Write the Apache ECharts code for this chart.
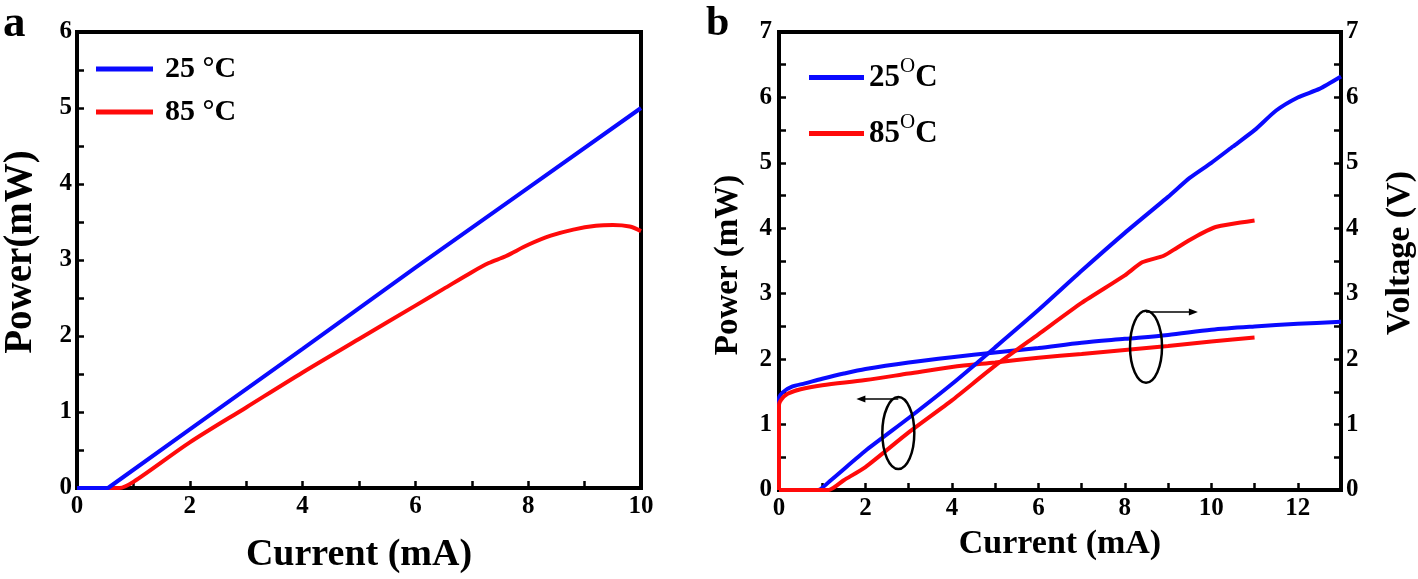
<!DOCTYPE html>
<html><head><meta charset="utf-8">
<script src="https://cdn.jsdelivr.net/npm/echarts@6/dist/echarts.min.js"></script>
<style>html,body{margin:0;padding:0;background:#fff}#c{width:1418px;height:579px}</style>
</head><body><div id="c"></div>
<script>
// ---------- Panel a data (Power vs Current) ----------
const aCurrent25 = [0, 0.55, 2, 4, 6, 8, 10];
const aPower25   = [0, 0,    0.77, 1.83, 2.9, 3.95, 5.0];
const aCurrent85 = [0, 0.75, 1, 2, 3, 4, 5, 6, 6.5, 7, 7.3, 7.6, 8, 8.4, 8.8, 9.2, 9.5, 9.8, 10];
const aPower85   = [0, 0, 0.08, 0.6, 1.06, 1.52, 1.96, 2.4, 2.62, 2.84, 2.96, 3.05, 3.2, 3.32, 3.4, 3.45, 3.46, 3.44, 3.38];

// ---------- Panel b data ----------
const bCurrentP25 = [0, 0.9, 1.2, 2, 3, 4, 5, 6, 7, 8, 9, 9.5, 10, 10.5, 11, 11.5, 12, 12.5, 13];
const bPower25    = [0, 0, 0.15, 0.6, 1.1, 1.62, 2.18, 2.75, 3.35, 3.93, 4.48, 4.77, 5.0, 5.25, 5.5, 5.8, 6.0, 6.13, 6.32];
const bCurrentP85 = [0, 1.15, 1.5, 2, 3, 4, 5, 6, 7, 8, 8.4, 8.9, 9.2, 9.5, 9.8, 10.1, 10.5, 11];
const bPower85    = [0, 0, 0.15, 0.35, 0.88, 1.37, 1.9, 2.38, 2.86, 3.28, 3.48, 3.58, 3.7, 3.82, 3.93, 4.02, 4.07, 4.12];
const bCurrentV25 = [0, 0, 0.1, 0.3, 0.6, 1, 1.5, 2, 3, 4, 5, 6, 7, 8, 9, 10, 11, 12, 13];
const bVoltage25  = [0, 1.4, 1.5, 1.58, 1.63, 1.7, 1.78, 1.85, 1.95, 2.03, 2.1, 2.17, 2.25, 2.31, 2.37, 2.45, 2.5, 2.54, 2.57];
const bCurrentV85 = [0, 0, 0.05, 0.2, 0.5, 1, 2, 3, 4, 5, 6, 7, 8, 9, 10, 11];
const bVoltage85  = [0, 1.3, 1.38, 1.47, 1.54, 1.6, 1.68, 1.78, 1.88, 1.95, 2.02, 2.08, 2.14, 2.2, 2.27, 2.33];

// annotations (panel b, data coords): ellipse [cx, cy, rx, ry], arrow [x1, y1, x2, y2]
const ellipses = [[2.76, 0.87, 0.37, 0.55], [8.49, 2.19, 0.37, 0.55]];
const arrows   = [[2.76, 1.39, 1.79, 1.39], [8.49, 2.72, 9.69, 2.72]];

const seriesNames = ['25 °C', '85 °C'];
const aXTicks = {min: 0, max: 10, interval: 2};
const aYTicks = {min: 0, max: 6, interval: 1};
const bXTicks = {min: 0, max: 13, interval: 1};
const bYTicks = {min: 0, max: 7, interval: 1};

const zip = (xs, ys) => xs.map((x, i) => [x, ys[i]]);
const FONT = "'Liberation Serif','Times New Roman',serif";
const BLUE = '#0a0aff', RED = '#ff0a0a';
const lbl = (extra) => Object.assign({fontFamily: FONT, fontWeight: 'bold', fontSize: 25, color: '#000'}, extra || {});
const line = {show: true, lineStyle: {color: '#000', width: 4}};
const tick = {show: true, inside: true, length: 7, lineStyle: {color: '#000', width: 2.5}};
const minor = {show: true, splitNumber: 2, length: 7, lineStyle: {color: '#000', width: 2.5}};

const chart = echarts.init(document.getElementById('c'), null, {renderer: 'canvas'});
chart.setOption({
  backgroundColor: '#fff',
  animation: false,
  title: [
    {text: 'a', left: 3, top: 2, padding: 0, textStyle: {fontFamily: FONT, fontWeight: 'bold', fontSize: 45, color: '#000'}},
    {text: 'b', left: 706, top: 3, padding: 0, textStyle: {fontFamily: FONT, fontWeight: 'bold', fontSize: 42, color: '#000'}}
  ],
  grid: [
    {left: 75, top: 32, width: 566, height: 458, show: true, borderColor: '#000', borderWidth: 4, backgroundColor: 'transparent'},
    {left: 779, top: 32, width: 565, height: 458, show: true, borderColor: '#000', borderWidth: 4, backgroundColor: 'transparent'}
  ],
  legend: [
    {data: seriesNames, orient: 'vertical', left: 91, top: 46, icon: 'rect', itemWidth: 57, itemHeight: 5, itemGap: 7,
     selectedMode: false,
     textStyle: lbl({fontSize: 30, lineHeight: 36, padding: [0, 0, 0, 7]})},
    {data: seriesNames, orient: 'vertical', left: 804, top: 51, icon: 'rect', itemWidth: 55, itemHeight: 5, itemGap: 13,
     selectedMode: false,
     formatter: n => '{n|' + n.replace(' °C', '') + '}{s|O}{n|C}',
     textStyle: lbl({fontSize: 31, rich: {
       n: {fontFamily: FONT, fontWeight: 'bold', fontSize: 31, lineHeight: 31, color: '#000'},
       s: {fontFamily: FONT, fontWeight: 'normal', fontSize: 21, lineHeight: 21, padding: [0, 0, 22, 0], color: '#000'}}})}
  ],
  xAxis: [
    Object.assign({gridIndex: 0, type: 'value'}, aXTicks, {
      axisLine: line, axisTick: tick, minorTick: minor, splitLine: {show: false},
      axisLabel: lbl({margin: 6}),
      name: 'Current (mA)', nameLocation: 'middle', nameGap: 48,
      nameTextStyle: lbl({fontSize: 38})}),
    Object.assign({gridIndex: 1, type: 'value'}, bXTicks, {
      axisLine: line, axisTick: tick, splitLine: {show: false},
      axisLabel: lbl({margin: 6, formatter: v => (v % 2 === 0 ? String(v) : '')}),
      name: 'Current (mA)', nameLocation: 'middle', nameGap: 37,
      nameTextStyle: lbl({fontSize: 34})})
  ],
  yAxis: [
    Object.assign({gridIndex: 0, type: 'value'}, aYTicks, {
      axisLine: line, axisTick: tick, minorTick: minor, splitLine: {show: false},
      axisLabel: lbl({margin: 5}),
      name: 'Power(mW)', nameLocation: 'middle', nameGap: 37, nameRotate: 90,
      nameTextStyle: lbl({fontSize: 39, padding: [0, 0, 0, 16]})}),
    Object.assign({gridIndex: 1, type: 'value', position: 'left'}, bYTicks, {
      axisLine: line, axisTick: tick, minorTick: minor, splitLine: {show: false},
      axisLabel: lbl({margin: 7}),
      name: 'Power (mW)', nameLocation: 'middle', nameGap: 34, nameRotate: 90,
      nameTextStyle: lbl({fontSize: 33, padding: [0, 8, 0, 0]})}),
    Object.assign({gridIndex: 1, type: 'value', position: 'right'}, bYTicks, {
      axisLine: line, axisTick: tick, minorTick: minor, splitLine: {show: false},
      axisLabel: lbl({margin: 5}),
      name: 'Voltage (V)', nameLocation: 'middle', nameGap: 42, nameRotate: 90,
      nameTextStyle: lbl({fontSize: 34, padding: [0, 0, 0, 16]})})
  ],
  series: [
    {name: seriesNames[0], type: 'line', xAxisIndex: 0, yAxisIndex: 0, data: zip(aCurrent25, aPower25), showSymbol: false, smooth: false, lineStyle: {color: BLUE, width: 4}, itemStyle: {color: BLUE}, z: 3},
    {name: seriesNames[1], type: 'line', xAxisIndex: 0, yAxisIndex: 0, data: zip(aCurrent85, aPower85), showSymbol: false, smooth: 0.3, lineStyle: {color: RED, width: 4}, itemStyle: {color: RED}, z: 2},
    {name: seriesNames[0], type: 'line', xAxisIndex: 1, yAxisIndex: 2, data: zip(bCurrentV25, bVoltage25), showSymbol: false, smooth: 0.3, lineStyle: {color: BLUE, width: 4}, itemStyle: {color: BLUE}, z: 2},
    {name: seriesNames[1], type: 'line', xAxisIndex: 1, yAxisIndex: 2, data: zip(bCurrentV85, bVoltage85), showSymbol: false, smooth: 0.3, lineStyle: {color: RED, width: 4}, itemStyle: {color: RED}, z: 2},
    {name: seriesNames[0], type: 'line', xAxisIndex: 1, yAxisIndex: 1, data: zip(bCurrentP25, bPower25), showSymbol: false, smooth: 0.2, lineStyle: {color: BLUE, width: 4}, itemStyle: {color: BLUE}, z: 3},
    {name: seriesNames[1], type: 'line', xAxisIndex: 1, yAxisIndex: 1, data: zip(bCurrentP85, bPower85), showSymbol: false, smooth: 0.2, lineStyle: {color: RED, width: 4}, itemStyle: {color: RED}, z: 3},
    {type: 'custom', xAxisIndex: 1, yAxisIndex: 1, data: ellipses, silent: true, z: 5,
     renderItem: (p, api) => {
       const c = api.coord([api.value(0), api.value(1)]);
       const s = api.size([api.value(2), api.value(3)]);
       return {type: 'ellipse', shape: {cx: c[0], cy: c[1], rx: s[0], ry: s[1]}, style: {fill: null, stroke: '#000', lineWidth: 2.5}};
     }},
    {type: 'custom', xAxisIndex: 1, yAxisIndex: 1, data: arrows, silent: true, z: 5,
     renderItem: (p, api) => {
       const a = api.coord([api.value(0), api.value(1)]);
       const b = api.coord([api.value(2), api.value(3)]);
       const dir = b[0] > a[0] ? 1 : -1;
       return {type: 'group', children: [
         {type: 'line', shape: {x1: a[0], y1: a[1], x2: b[0] - dir * 6, y2: b[1]}, style: {stroke: '#000', lineWidth: 1.5}},
         {type: 'polygon', shape: {points: [[b[0], b[1]], [b[0] - dir * 9, b[1] - 3.5], [b[0] - dir * 9, b[1] + 3.5]]}, style: {fill: '#000'}}
       ]};
     }}
  ]
});
</script></body></html>
